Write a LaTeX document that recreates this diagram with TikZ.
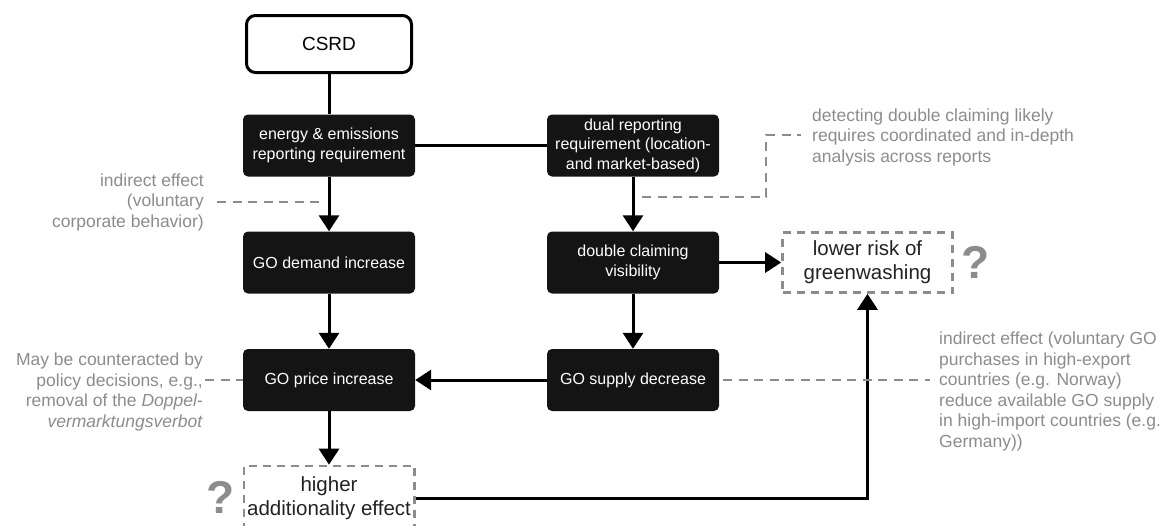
\documentclass[tikz,border=0pt]{standalone}
\usepackage{fontspec}
\setmainfont{Liberation Sans}
\usetikzlibrary{arrows.meta}
\definecolor{boxfill}{HTML}{141414}
\definecolor{notegray}{HTML}{8C8C8C}
\definecolor{labeltext}{HTML}{222222}

\begin{document}
\begin{tikzpicture}[x=1pt, y=-1pt,
    box/.style={rectangle, fill=boxfill, text=white, rounded corners=5pt, minimum width=172pt, minimum height=62pt, inner sep=2pt, align=center, font=\fontsize{16}{19.5}\selectfont},
    topbox/.style={rectangle, draw, line width=3pt, fill=white, rounded corners=9pt, minimum width=165pt, minimum height=57pt, font=\fontsize{19}{22}\selectfont},
    openbox/.style={rectangle, draw=notegray, line width=2.6pt, dash pattern=on 8pt off 6pt, minimum width=170pt, minimum height=60pt, align=center, text=labeltext, font=\fontsize{20.5}{24}\selectfont},
    note/.style={text=notegray, inner sep=2pt, font=\fontsize{17.5}{20.5}\selectfont},
    query/.style={text=notegray, inner sep=0pt, font=\fontsize{46}{46}\selectfont\bfseries},
    flow/.style={line width=3pt, -{Triangle[width=20pt,length=16pt]}},
    link/.style={line width=3pt},
    hint/.style={draw=notegray, line width=2.8pt, dash pattern=on 9pt off 6.5pt}]

    \useasboundingbox (0,0) rectangle (1165,525);

    % main chain
    \node[topbox] (csrd) at (329,44) {CSRD};
    \node[box] (report) at (329,145.5) {energy \& emissions\\reporting requirement};
    \node[box] (dual) at (633,145.5) {dual reporting\\requirement (location-\\and market-based)};
    \node[box] (demand) at (329,262.5) {GO demand increase};
    \node[box] (visible) at (633,262.5) {double claiming\\visibility};
    \node[box] (price) at (329,380) {GO price increase};
    \node[box] (supply) at (633,380) {GO supply decrease};
    \node[openbox] (greenwash) at (867.5,262.5) {lower risk of\\greenwashing};
    \node[openbox, minimum height=64pt] (additional) at (329,498) {higher\\additionality effect};

    \node[query] (qgreen) at (976,262) {?};
    \node[query] (qadd) at (221,497) {?};

    % side notes
    \node[note, anchor=east, align=right] (voluntary) at (206,202) {indirect effect\\(voluntary\\corporate behavior)};
    \node[note, anchor=east, align=right] (counter) at (205,392) {May be counteracted by\\policy decisions, e.g.,\\removal of the \textit{Doppel-}\\\textit{vermarktungsverbot}};
    \node[note, anchor=west, align=left] (detect) at (810,137) {detecting double claiming likely\\requires coordinated and in-depth\\analysis across reports};
    \node[note, anchor=west, align=left] (export) at (937,391.5) {indirect effect (voluntary GO\\purchases in high-export\\countries (e.g. Norway)\\reduce available GO supply\\in high-import countries (e.g.\\Germany))};

    \draw[link] (csrd) -- (report);
    \draw[link] (report) -- (dual);
    \draw[flow] (report) -- (demand);
    \draw[flow] (dual) -- (visible);
    \draw[flow] (demand) -- (price);
    \draw[flow] (visible) -- (supply);
    \draw[flow] (visible) -- (greenwash);
    \draw[flow] (supply) -- (price);
    \draw[flow] (price) -- (additional);
    \draw[flow] (additional.east) -| (greenwash.south);

    % dashed hints
    \coordinate (demandpt) at (325,202);
    \coordinate (dualpt) at (642,197);
    \coordinate (detectbend) at (766,135);
    \draw[hint] ([xshift=11pt]voluntary.east) -- (demandpt);
    \draw[hint] (counter.east |- price) -- (price.west);
    \draw[hint] (dualpt) -| (detectbend) -- ([xshift=-9pt]detect.west |- detectbend);
    \draw[hint, shorten <=4pt, shorten >=7pt] (supply.east) -- (export.west |- supply);
\end{tikzpicture}
\end{document}
